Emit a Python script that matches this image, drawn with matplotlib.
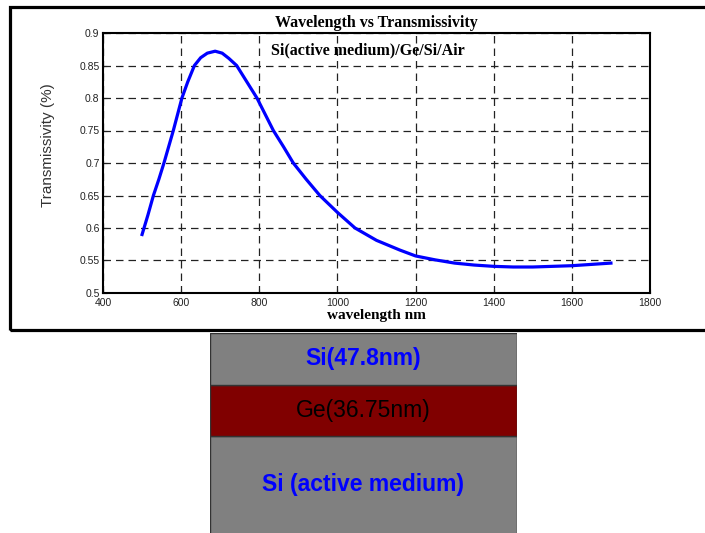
import numpy as np
import matplotlib.pyplot as plt
from matplotlib.patches import Rectangle

# Transmissivity curve
wavelength_nm = [500, 515, 529, 543, 556, 568, 580, 591, 602, 617, 634, 650, 667, 687,
                 705, 722, 742, 768, 794, 815, 836, 862, 887, 920, 955, 1000, 1045,
                 1100, 1160, 1200, 1250, 1300, 1350, 1400, 1450, 1500, 1550, 1600,
                 1650, 1700]
transmissivity = [0.590, 0.620, 0.650, 0.675, 0.700, 0.725, 0.750, 0.775, 0.800, 0.825,
                  0.850, 0.862, 0.869, 0.872, 0.869, 0.861, 0.850, 0.825, 0.800, 0.775,
                  0.750, 0.725, 0.700, 0.675, 0.650, 0.624, 0.600, 0.581, 0.566, 0.557,
                  0.551, 0.546, 0.543, 0.541, 0.540, 0.540, 0.541, 0.542, 0.544, 0.546]
x_ticks = [400, 600, 800, 1000, 1200, 1400, 1600, 1800]
y_ticks = [0.5, 0.55, 0.6, 0.65, 0.7, 0.75, 0.8, 0.85, 0.9]
y_tick_labels = ['0.5', '0.55', '0.6', '0.65', '0.7', '0.75', '0.8', '0.85', '0.9']

# Layer stack (bottom to top); heights are drawing units, not to scale
layer_labels = ['Si (active medium)', 'Ge(36.75nm)', 'Si(47.8nm)']
layer_heights = [2.2, 1.0, 1.0]
layer_colors = ['#808080', '#800000', '#808080']
label_colors = ['#0000ff', '#000000', '#0000ff']
label_weights = ['bold', 'normal', 'bold']

W, H = 705, 533
fig = plt.figure(figsize=(W / 100, H / 100), dpi=100)

# outer frame around the plot (open on the right, runs off the image)
fig.patches.append(Rectangle((10 / W, 1 - 330 / H), 1.2, 323 / H, transform=fig.transFigure,
                             fill=False, edgecolor='black', linewidth=2.3, clip_on=False))

ax = fig.add_axes([103 / W, 1 - 293 / H, 547 / W, 260 / H])
ax.plot(wavelength_nm, transmissivity, color='#0000ff', linewidth=2.3)
ax.set_xlim(400, 1800)
ax.set_ylim(0.5, 0.9)
ax.set_xticks(x_ticks)
ax.set_yticks(y_ticks)
ax.set_yticklabels(y_tick_labels)
ax.tick_params(labelsize=7.5, direction='in', length=3,
               labelfontfamily='Liberation Sans', colors='#222222')
ax.tick_params(axis='x', pad=3.5)
ax.tick_params(axis='y', pad=2.5)
ax.grid(True, color='#222222', linestyle=(0, (6, 4)), linewidth=0.9)
for sp in ax.spines.values():
    sp.set_linewidth(1.5)

ax.set_xlabel('wavelength nm', fontfamily='Liberation Serif', fontweight='bold',
              fontsize=11, labelpad=0.5)
ax.set_ylabel('Transmissivity (%)', fontfamily='Liberation Sans', fontsize=11,
              color='#333333')
ax.yaxis.set_label_coords(-0.088, 0.57)
ax.set_title('Wavelength vs Transmissivity', fontfamily='Liberation Serif',
             fontweight='bold', fontsize=11.5, pad=4)
ax.text(0.4835, 0.935, 'Si(active medium)/Ge/Si/Air', transform=ax.transAxes,
        fontfamily='Liberation Serif', fontweight='bold', fontsize=11.5,
        ha='center', va='center')

# layer diagram
lax = fig.add_axes([210 / W, 0, 307 / W, 200 / H])
bottoms = np.concatenate([[0], np.cumsum(layer_heights)[:-1]])
lax.bar(0, layer_heights, bottom=bottoms, width=1.0, color=layer_colors,
        edgecolor='#333333', linewidth=1.0)
top = sum(layer_heights)
low = top - 200 / 51.5
lax.set_xlim(-0.5, 0.5)
lax.set_ylim(low, top)
for i, lab in enumerate(layer_labels):
    b0 = max(bottoms[i], low)
    yc = (b0 + bottoms[i] + layer_heights[i]) / 2
    lax.text(0, yc, lab, ha='center', va='center', color=label_colors[i],
             fontweight=label_weights[i], fontsize=16.5, fontfamily='Liberation Sans')
lax.axis('off')

fig.savefig('out.png', dpi=100)
